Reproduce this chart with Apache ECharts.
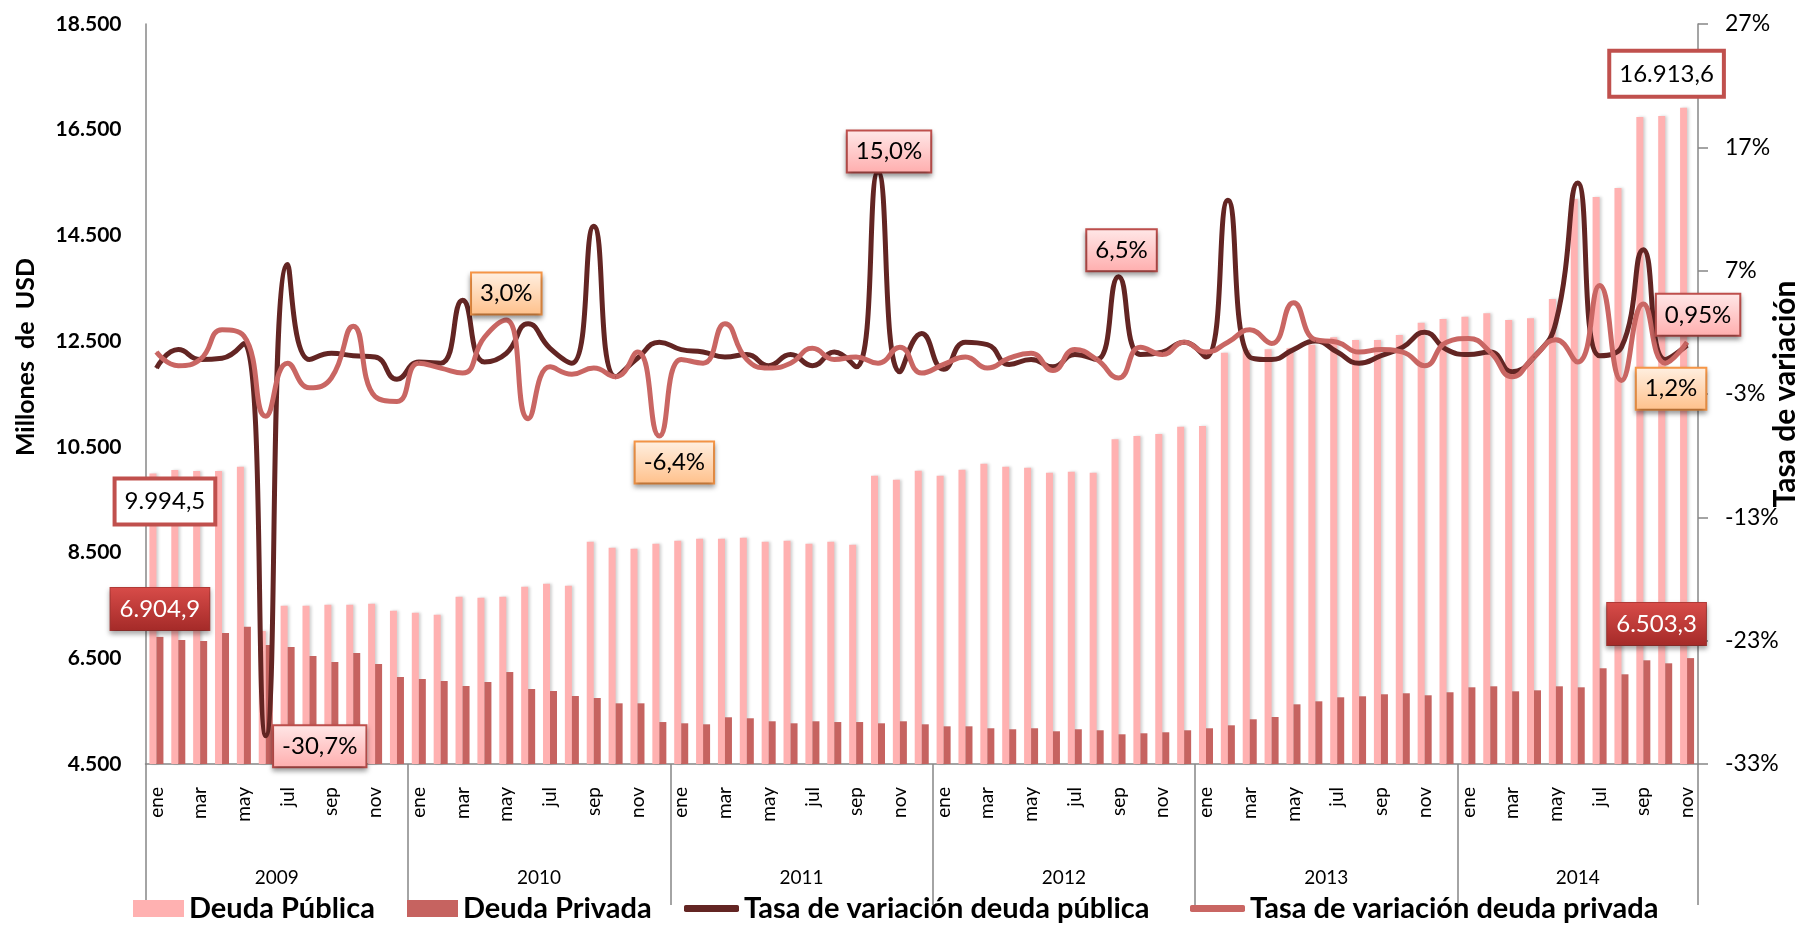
<!DOCTYPE html>
<html>
<head>
<meta charset="utf-8">
<title>Deuda pública y privada</title>
<script src="https://cdn.jsdelivr.net/npm/echarts@6/dist/echarts.min.js"></script>
<style>
html, body { margin: 0; padding: 0; background: #fff; }
#chart { width: 1796px; height: 925px; }
</style>
</head>
<body>
<div id="chart"></div>
<script>
// categorias
var nombresMes = ['ene', 'feb', 'mar', 'abr', 'may', 'jun', 'jul', 'ago', 'sep', 'oct', 'nov', 'dic'];
var anios = ['2009', '2010', '2011', '2012', '2013', '2014'];
var mesesPorAnio = [12, 12, 12, 12, 12, 11];

// millones de USD
var deudaPublica = [
    9994.5, 10062, 10043, 10043, 10125, 7016, 7495, 7495, 7514, 7514, 7533, 7400,
    7362, 7325, 7665, 7646, 7665, 7854, 7911, 7873, 8706, 8592, 8573, 8668,
    8725, 8763, 8763, 8781, 8706, 8725, 8668, 8706, 8649, 9955, 9879, 10049,
    9955, 10068, 10181, 10125, 10106, 10011, 10030, 10011, 10643, 10706, 10743, 10881,
    10894, 12282, 12332, 12345, 12364, 12430, 12573, 12522, 12522, 12616, 12849, 12919,
    12962, 13026, 12900, 12932, 13297, 15190, 15227, 15397, 16740, 16759, 16913.6
];
var deudaPrivada = [
    6904.9, 6846, 6827, 6978, 7098, 6751, 6713, 6543, 6430, 6600, 6392, 6146,
    6108, 6070, 5976, 6051, 6240, 5919, 5881, 5786, 5749, 5648, 5648, 5294,
    5270, 5251, 5384, 5365, 5308, 5270, 5308, 5294, 5294, 5270, 5308, 5251,
    5213, 5213, 5176, 5157, 5176, 5119, 5157, 5138, 5062, 5081, 5100, 5138,
    5176, 5232, 5346, 5389, 5629, 5686, 5762, 5781, 5819, 5838, 5800, 5857,
    5951, 5970, 5875, 5894, 5970, 5951, 6311, 6197, 6462, 6405, 6503.3
];
// tasas de variacion (%)
var tasaPublica = [
    -0.9, 0.6, -0.2, -0.1, 1.1, -30.7, 7.5, -0.2, 0.3, 0.1, 0.0, -1.8,
    -0.4, -0.5, 4.6, -0.4, 0.3, 2.7, 0.7, -0.5, 10.6, -1.6, -0.1, 1.2,
    0.6, 0.4, 0.0, 0.2, -0.7, 0.2, -0.7, 0.4, -0.8, 15.0, -1.2, 1.9,
    -1.0, 1.2, 1.0, -0.6, -0.2, -0.8, 0.2, -0.2, 6.5, 0.2, 0.4, 1.2,
    0.0, 12.7, 0.0, -0.2, 0.6, 1.3, 0.4, -0.5, 0.1, 0.8, 2.0, 0.6,
    0.2, 0.4, -1.2, 0.0, 2.8, 14.1, 0.1, 0.8, 8.7, -0.2, 0.95
];
var tasaPrivada = [
    0.4, -0.7, -0.2, 2.2, 1.7, -4.8, -0.5, -2.5, -1.7, 2.5, -3.2, -3.6,
    -0.5, -0.9, -1.3, 1.6, 3.0, -5.0, -0.8, -1.4, -0.9, -1.6, 0.4, -6.4,
    -0.2, -0.5, 2.7, -0.2, -0.9, -0.5, 0.7, -0.2, 0.0, -0.5, 0.8, -1.3,
    -0.6, 0.0, -0.9, -0.1, 0.3, -1.1, 0.6, -0.2, -1.7, 0.8, 0.2, 1.2,
    0.4, 1.2, 2.2, 1.1, 4.4, 1.4, 1.2, 0.4, 0.6, 0.4, -0.7, 1.2,
    1.5, 0.4, -1.6, 0.0, 1.4, -0.4, 5.8, -1.9, 4.3, -0.5, 1.2
];
// ticks
var ticksMonto = [4500, 6500, 8500, 10500, 12500, 14500, 16500, 18500];
var ticksTasa = [-33, -23, -13, -3, 7, 17, 27];

var FUENTE = 'Lato, "Open Sans", sans-serif';

// meses y posiciones de los años
var meses = [];
var centrosAnio = [];
var limitesAnio = [0];
var acum = 0;
for (var a = 0; a < anios.length; a++) {
    for (var m = 0; m < mesesPorAnio[a]; m++) {
        meses.push(nombresMes[m] + ' ' + anios[a]);
    }
    centrosAnio.push(acum + mesesPorAnio[a] / 2);
    acum += mesesPorAnio[a];
    limitesAnio.push(acum);
}

function fmtMonto(v) {
    var s = v.toFixed(1).split('.');
    return s[0].replace(/\B(?=(\d{3})+(?!\d))/g, '.') + ',' + s[1];
}
function fmtMiles(v) {
    return String(v).replace(/\B(?=(\d{3})+(?!\d))/g, '.');
}
function fmtTasa(v) {
    var d = Math.abs(v * 10 - Math.round(v * 10)) < 1e-6 ? 1 : 2;
    return v.toFixed(d).replace('.', ',') + '%';
}

function grad(c1, c2) {
    return new echarts.graphic.LinearGradient(0, 0, 0, 1, [
        { offset: 0, color: c1 }, { offset: 1, color: c2 }
    ]);
}

var cajaBase = {
    show: true,
    position: 'top',
    distance: 0,
    fontFamily: FUENTE,
    fontSize: 24,
    lineHeight: 26,
    color: '#000'
};
var cajaBlanca = { backgroundColor: '#fff', borderColor: '#C0504D', borderWidth: 4, padding: [8, 8] };
var cajaRoja = {
    backgroundColor: grad('#D84C49', '#A42A28'), borderColor: '#B33B38', borderWidth: 1,
    color: '#fff', padding: [8, 9],
    shadowColor: 'rgba(0,0,0,0.35)', shadowBlur: 5, shadowOffsetY: 3
};
var cajaRosa = {
    backgroundColor: grad('#FFE8E8', '#FFADAD'), borderColor: '#C0504D', borderWidth: 2,
    padding: [7, 8],
    shadowColor: 'rgba(0,0,0,0.35)', shadowBlur: 5, shadowOffsetY: 3
};
var cajaNaranja = {
    backgroundColor: grad('#FFF0E2', '#FFC08A'), borderColor: '#F79646', borderWidth: 2,
    padding: [7, 8],
    shadowColor: 'rgba(0,0,0,0.35)', shadowBlur: 5, shadowOffsetY: 3
};

// etiquetas: indice -> [estilo, desplazamiento]
function conEtiquetas(valores, marcas, fmt) {
    return valores.map(function (v, i) {
        var mk = marcas[i];
        if (!mk) return v;
        var lab = Object.assign({}, cajaBase, mk[0], {
            offset: mk[1],
            formatter: function () { return fmt(v); }
        });
        return { value: v, label: lab };
    });
}

var ultimo = meses.length - 1;
var marcasPublica = {}; marcasPublica[0] = [cajaBlanca, [12, 49]]; marcasPublica[ultimo] = [cajaBlanca, [-17, -13]];
var marcasPrivada = {}; marcasPrivada[0] = [cajaRoja, [0, -7]]; marcasPrivada[ultimo] = [cajaRoja, [-34, -13]];
var marcasTasaPub = {};
marcasTasaPub[5] = [cajaRosa, [54, 31]];
marcasTasaPub[33] = [cajaRosa, [11, 0]];
marcasTasaPub[44] = [cajaRosa, [3, -6]];
marcasTasaPub[ultimo] = [cajaRosa, [11, -10]];
var marcasTasaPriv = {};
marcasTasaPriv[16] = [cajaNaranja, [0, -6]];
marcasTasaPriv[23] = [cajaNaranja, [15, 47]];
marcasTasaPriv[ultimo] = [cajaNaranja, [-16, 67]];

var gris = '#878787';
var myChart = echarts.init(document.getElementById('chart'));

function leyenda(nombre, left, icono, w, h) {
    return {
        left: left,
        top: 894,
        padding: 0,
        itemWidth: w,
        itemHeight: h,
        itemGap: 0,
        selectedMode: false,
        textStyle: { fontFamily: FUENTE, fontSize: 29, fontWeight: 'bold', color: '#000' },
        data: [{ name: nombre, icon: icono }]
    };
}

function serieTasa(nombre, color, valores, marcas) {
    return {
        name: nombre,
        type: 'line',
        yAxisIndex: 1,
        smooth: true,
        symbol: 'circle',
        symbolSize: 1,
        showSymbol: true,
        showAllSymbol: true,
        lineStyle: { color: color, width: 5 },
        itemStyle: { color: color },
        data: conEtiquetas(valores, marcas, fmtTasa)
    };
}

var option = {
    animation: false,
    backgroundColor: '#fff',
    legend: [
        leyenda('Deuda Pública', 133, 'rect', 51, 17),
        leyenda('Deuda Privada', 407, 'rect', 51, 17),
        leyenda('Tasa de variación deuda pública', 684, 'roundRect', 55, 7),
        leyenda('Tasa de variación deuda privada', 1190, 'roundRect', 55, 7)
    ],
    grid: { left: 145.5, right: 98, top: 24, bottom: 161, containLabel: false, outerBoundsMode: 'none' },
    xAxis: [
        {
            type: 'category',
            data: meses,
            boundaryGap: true,
            position: 'bottom',
            axisLine: { onZero: false, lineStyle: { color: gris, width: 1.5 } },
            axisTick: {
                show: true,
                length: 141,
                interval: function (idx) { return limitesAnio.indexOf(idx) >= 0; },
                lineStyle: { color: gris, width: 1.5 }
            },
            axisLabel: {
                interval: 1,
                rotate: 90,
                margin: 23,
                fontFamily: FUENTE,
                fontSize: 19,
                color: '#000',
                formatter: function (v) { return v.split(' ')[0]; }
            },
            splitLine: { show: false }
        },
        {
            type: 'value',
            min: 0,
            max: meses.length,
            position: 'bottom',
            axisLine: { show: false, onZero: false },
            axisTick: { show: false },
            splitLine: { show: false },
            axisLabel: {
                customValues: centrosAnio,
                margin: 104,
                fontFamily: FUENTE,
                fontSize: 19,
                color: '#000',
                formatter: function (v) {
                    for (var k = 0; k < centrosAnio.length; k++) {
                        if (Math.abs(centrosAnio[k] - v) < 1e-6) return anios[k];
                    }
                    return '';
                }
            }
        }
    ],
    yAxis: [
        {
            type: 'value',
            position: 'left',
            min: 4500,
            max: 18500,
            name: 'Millones  de  USD',
            nameLocation: 'middle',
            nameGap: 107,
            nameMoveOverlap: false,
            nameTextStyle: { fontFamily: FUENTE, fontSize: 25, fontWeight: 'bold', color: '#000', padding: [0, 0, 0, 74] },
            axisLine: { show: true, lineStyle: { color: gris, width: 1.5 } },
            axisTick: { show: false },
            splitLine: { show: false },
            axisLabel: {
                customValues: ticksMonto,
                margin: 24,
                fontFamily: FUENTE,
                fontSize: 21,
                fontWeight: 'bold',
                color: '#000',
                formatter: fmtMiles
            }
        },
        {
            type: 'value',
            position: 'right',
            min: -33,
            max: 27,
            name: 'Tasa de variación',
            nameLocation: 'middle',
            nameGap: 72,
            nameMoveOverlap: false,
            nameTextStyle: { fontFamily: FUENTE, fontSize: 30, fontWeight: 'bold', color: '#000' },
            axisLine: { show: true, lineStyle: { color: gris, width: 1.5 } },
            axisTick: { show: true, customValues: ticksTasa, length: 10, lineStyle: { color: gris, width: 1.5 } },
            splitLine: { show: false },
            axisLabel: {
                customValues: ticksTasa,
                margin: 27,
                fontFamily: FUENTE,
                fontSize: 23,
                color: '#000',
                formatter: function (v) { return v + '%'; }
            }
        }
    ],
    series: [
        {
            name: 'Deuda Pública',
            type: 'bar',
            barWidth: 7,
            barGap: '0%',
            itemStyle: { color: '#FFB1B1', shadowColor: 'rgba(0,0,0,0.18)', shadowBlur: 3, shadowOffsetX: 2 },
            data: conEtiquetas(deudaPublica, marcasPublica, fmtMonto)
        },
        {
            name: 'Deuda Privada',
            type: 'bar',
            barWidth: 7,
            barGap: '0%',
            itemStyle: { color: '#C66360' },
            data: conEtiquetas(deudaPrivada, marcasPrivada, fmtMonto)
        },
        serieTasa('Tasa de variación deuda pública', '#632523', tasaPublica, marcasTasaPub),
        serieTasa('Tasa de variación deuda privada', '#C96663', tasaPrivada, marcasTasaPriv)
    ]
};
myChart.setOption(option);
</script>
</body>
</html>
